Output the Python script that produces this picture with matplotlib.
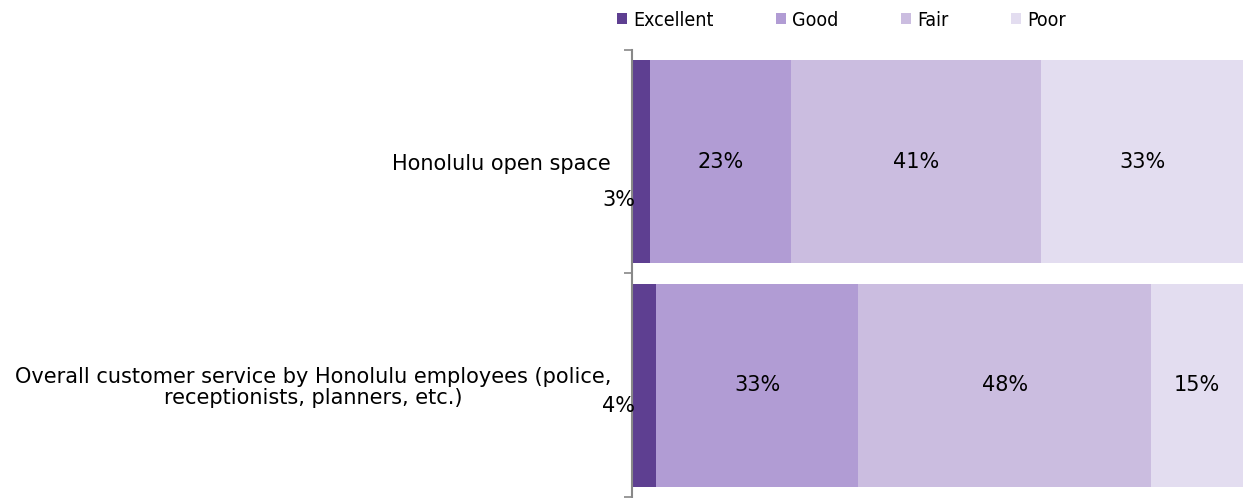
import matplotlib
matplotlib.use('agg')
import matplotlib.pyplot as plt
from matplotlib.font_manager import FontProperties
plt.rcParams["figure.figsize"] = [12.43, 4.98]
plt.rcParams["figure.dpi"] = 100
plt.rcParams["font.family"] = "DejaVu Sans"
plt.rcParams["font.size"] = 15

import numpy as np


categories = [
    'Honolulu open space',
    'Overall customer service by Honolulu employees (police,\nreceptionists, planners, etc.)',
]
ratings = ['Excellent', 'Good', 'Fair', 'Poor']
excellent = [3, 4]
good = [23, 33]
fair = [41, 48]
poor = [33, 15]

colors = ['#5e3f91', '#b19cd4', '#cbbde0', '#e3ddf0']


def generate_plot():
    fig = plt.figure()
    ax = fig.add_axes([632 / 1243, 1 / 498, 1 - 632 / 1243, 447 / 498])

    y_pos = np.arange(len(categories))
    left = np.zeros(len(categories))
    small_offsets = [0.17, 0.095]

    for name, values, color in zip(ratings, [excellent, good, fair, poor], colors):
        ax.barh(y_pos, values, left=left, height=0.91, color=color, label=name)

        for i, v in enumerate(values):
            if v < 10:
                # small segments get their label pushed out past the axis
                ax.text(0.5, y_pos[i] + small_offsets[i], '{}%'.format(v),
                        ha='right', va='center')
            else:
                ax.text(left[i] + v / 2, y_pos[i], '{}%'.format(v),
                        ha='center', va='center')

        left += np.array(values)

    ax.set_xlim(0, 100)
    ax.set_ylim(1.5, -0.5)

    for side in ['top', 'right', 'bottom']:
        ax.spines[side].set_visible(False)
    ax.spines['left'].set_color('#888888')
    ax.spines['left'].set_linewidth(1.5)

    ax.set_xticks([])
    ax.set_yticks(y_pos)
    ax.set_yticklabels(categories)
    for label in ax.get_yticklabels():
        label.set_multialignment('center')
        label.set_linespacing(1.05)
    ax.tick_params(axis='y', which='major', length=0, pad=15)

    ax.set_yticks([-0.5, 0.5, 1.5], minor=True)
    ax.tick_params(axis='y', which='minor', length=6, width=1.2, color='#888888')

    legend_font = FontProperties(family='DejaVu Sans', stretch='condensed', size=14)
    fig.legend(
        loc='center left',
        bbox_to_anchor=(599 / 1243, 1 - 20 / 498),
        ncol=4,
        frameon=False,
        prop=legend_font,
        handlelength=0.55,
        handleheight=0.55,
        handletextpad=0.3,
        columnspacing=3.2,
    )

    plt.savefig('out.png')
    plt.close()


if __name__ == '__main__':
    generate_plot()
